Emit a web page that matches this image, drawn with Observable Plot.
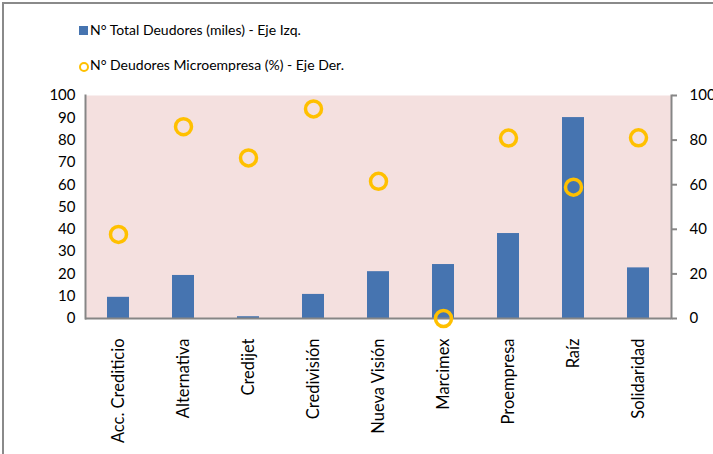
<!DOCTYPE html>
<html>
<head>
<meta charset="utf-8">
<script src="https://cdn.jsdelivr.net/npm/d3@7"></script>
<script src="https://cdn.jsdelivr.net/npm/@observablehq/plot@0.6"></script>
<style>
  html, body { margin: 0; padding: 0; width: 713px; height: 454px; overflow: hidden; background: #fff; }
  #frame { position: absolute; left: 2px; top: 2px; width: 900px; height: 700px; border: 2px solid #8a8a8a; box-sizing: border-box; }
  #legend { position: absolute; left: 0; top: 0; font-family: Lato, "Open Sans", sans-serif; font-size: 14px; color: #000; }
  .item { position: absolute; white-space: nowrap; }
  .sw { position: absolute; }
  #chart { position: absolute; left: 0; top: 0; }
</style>
</head>
<body>
<div id="frame"></div>
<div id="chart"></div>
<div id="legend">
  <div class="sw" style="left:79px;top:26px;width:9px;height:9px;background:#4674B0"></div>
  <div class="item" style="left:90px;top:21px">N° Total Deudores (miles) - Eje Izq.</div>
  <div class="sw" style="left:79px;top:62px;width:6px;height:6px;border:2.5px solid #FFC000;border-radius:50%"></div>
  <div class="item" style="left:90px;top:56px">N° Deudores Microempresa (%) - Eje Der.</div>
</div>
<script>
const categories = ["Acc. Crediticio", "Alternativa", "Credijet", "Credivisión", "Nueva Visión", "Marcimex", "Proempresa", "Raíz", "Solidaridad"];
const totalDeudores = [9.5, 19.3, 0.8, 10.8, 21.0, 24.2, 38.1, 90.1, 22.7];
const microempresaPct = [37.7, 86.0, 72.0, 94.0, 61.5, 0, 80.9, 58.9, 81.0];
const leftTicks = [0, 10, 20, 30, 40, 50, 60, 70, 80, 90, 100];
const rightTicks = [0, 20, 40, 60, 80, 100];

const data = categories.map((c, i) => ({cat: c, total: totalDeudores[i], pct: microempresaPct[i]}));

const axisColor = "#868686";
const plot = Plot.plot({
  width: 713,
  height: 454,
  marginTop: 95,
  marginLeft: 85,
  marginRight: 42,
  marginBottom: 136,
  style: {fontFamily: "Lato, 'Open Sans', sans-serif", fontSize: "15px", color: "#000", background: "transparent"},
  x: {domain: categories, paddingInner: 0.66, paddingOuter: 0.33, label: null},
  y: {domain: [0, 100], label: null},
  marks: [
    Plot.frame({fill: "#F4E0DF", stroke: null}),
    Plot.barY(data, {x: "cat", y: "total", fill: "#4674B0"}),
    Plot.frame({anchor: "left", stroke: axisColor, strokeWidth: 2}),
    Plot.frame({anchor: "right", stroke: axisColor, strokeWidth: 2}),
    Plot.ruleY([0], {stroke: axisColor, strokeWidth: 2}),
    Plot.dot(data, {x: "cat", y: "pct", r: 8, stroke: "#FFC000", strokeWidth: 3.5, fill: "none"}),
    Plot.axisY({anchor: "left", ticks: leftTicks, tickSize: 0, tickPadding: 10, label: null, fontSize: 15}),
    Plot.axisY({anchor: "right", ticks: rightTicks, tickSize: 5, tickPadding: 13, stroke: axisColor, strokeWidth: 2, label: null, fontSize: 15}),
    Plot.axisX({tickRotate: -90, tickSize: 0, tickPadding: 20, label: null, fontSize: 16.5})
  ]
});
document.getElementById("chart").appendChild(plot);
</script>
</body>
</html>
